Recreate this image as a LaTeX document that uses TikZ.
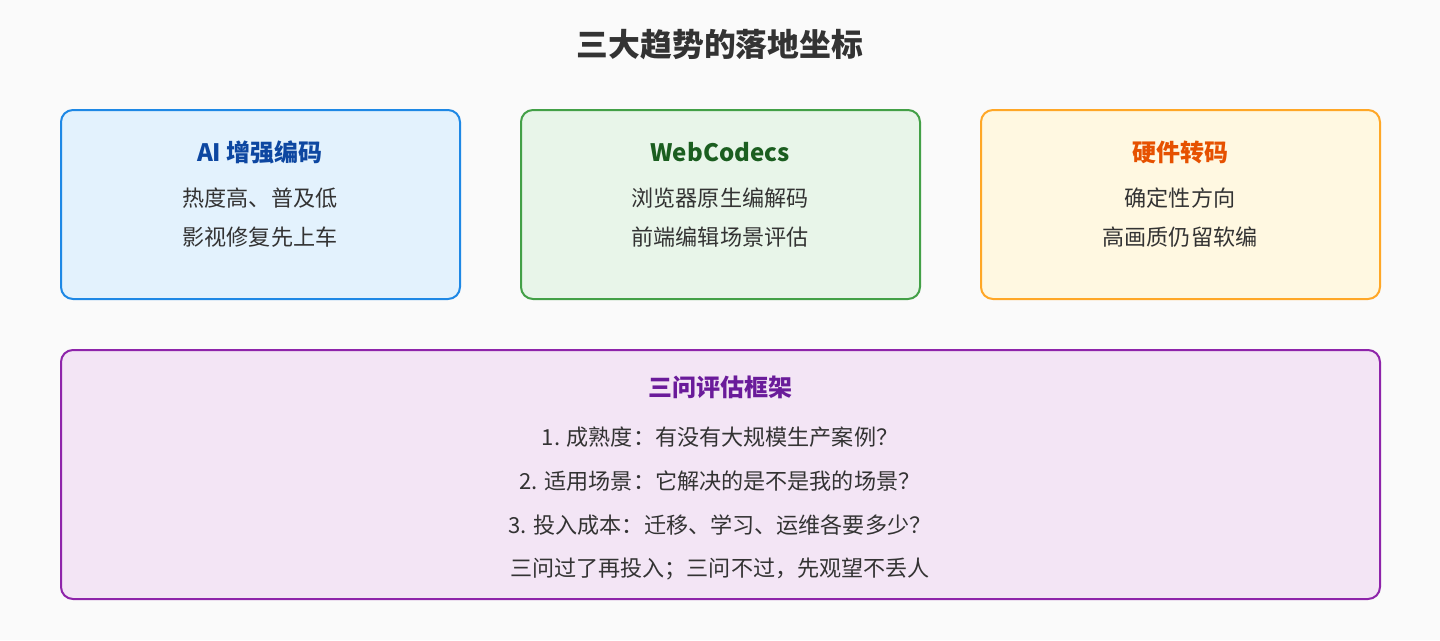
\documentclass[tikz,border=0pt]{standalone}
\usepackage{fontspec}
\setmainfont{Noto Sans CJK SC}
\definecolor{bg}{HTML}{FAFAFA}
\definecolor{txt}{HTML}{333333}
\definecolor{bAfill}{HTML}{E3F2FD}\definecolor{bAline}{HTML}{1E88E5}\definecolor{bAtitle}{HTML}{0D47A1}
\definecolor{bBfill}{HTML}{E8F5E9}\definecolor{bBline}{HTML}{43A047}\definecolor{bBtitle}{HTML}{1B5E20}
\definecolor{bCfill}{HTML}{FFF8E1}\definecolor{bCline}{HTML}{FFA726}\definecolor{bCtitle}{HTML}{E65100}
\definecolor{bDfill}{HTML}{F3E5F5}\definecolor{bDline}{HTML}{8E24AA}\definecolor{bDtitle}{HTML}{6A1B9A}
\tikzset{
  card/.style={rounded corners=12pt, line width=2pt},
  maintitle/.style={font=\fontsize{31.8pt}{36pt}\selectfont\bfseries, text=txt, inner sep=0pt},
  cardtitle/.style={font=\fontsize{24pt}{28pt}\selectfont\bfseries, inner sep=0pt},
  body/.style={font=\fontsize{22.1pt}{26pt}\selectfont, text=txt, inner sep=0pt}
}
\begin{document}
\begin{tikzpicture}[x=1pt,y=-1pt]
\fill[bg] (0,0) rectangle (1440,640);
\useasboundingbox (0,0) rectangle (1440,640);
\node[maintitle] (title) at (720,45) {三大趋势的落地坐标};

\draw[card, fill=bAfill, draw=bAline] (61,110) rectangle (460,299);
\node[cardtitle, text=bAtitle] (at) at (260,152) {AI 增强编码};
\node[body] (a1) at (260,198) {热度高、普及低};
\node[body] (a2) at (260,237) {影视修复先上车};

\draw[card, fill=bBfill, draw=bBline] (521,110) rectangle (920,299);
\node[cardtitle, text=bBtitle] (bt) at (720,152) {WebCodecs};
\node[body] (b1) at (720,198) {浏览器原生编解码};
\node[body] (b2) at (720,237) {前端编辑场景评估};

\draw[card, fill=bCfill, draw=bCline] (981,110) rectangle (1380,299);
\node[cardtitle, text=bCtitle] (ct) at (1180,152) {硬件转码};
\node[body] (c1) at (1180,198) {确定性方向};
\node[body] (c2) at (1180,237) {高画质仍留软编};

\draw[card, fill=bDfill, draw=bDline] (61,350) rectangle (1380,599);
\node[cardtitle, text=bDtitle] (dt) at (720,387) {三问评估框架};
\node[body] (d1) at (720,437) {1. 成熟度：有没有大规模生产案例？};
\node[body] (d2) at (720,481) {2. 适用场景：它解决的是不是我的场景？};
\node[body] (d3) at (720,525) {3. 投入成本：迁移、学习、运维各要多少？};
\node[body] (d4) at (720,569) {三问过了再投入；三问不过，先观望不丢人};
\end{tikzpicture}
\end{document}
